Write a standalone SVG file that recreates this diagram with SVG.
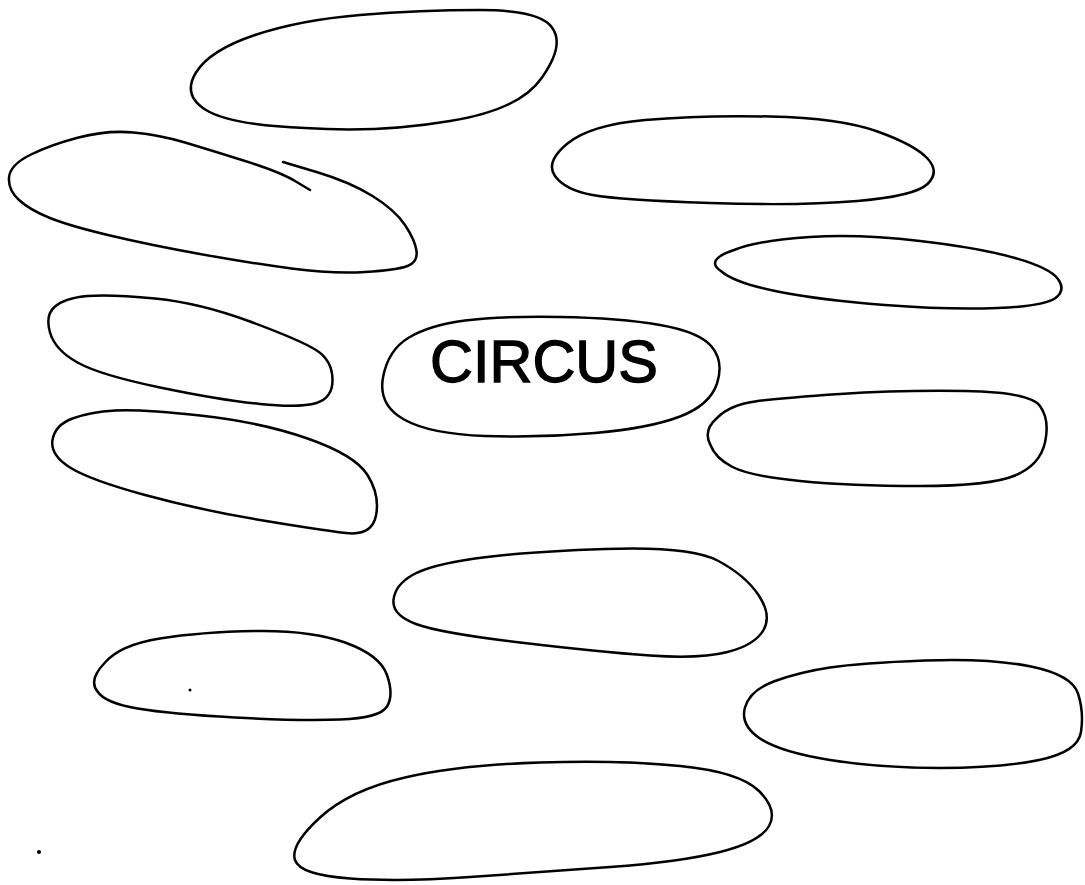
<svg xmlns="http://www.w3.org/2000/svg" width="1085" height="885" viewBox="0 0 1085 885">
<style>
.blob{fill:none;stroke:#000;stroke-width:2.5;stroke-linecap:round;stroke-linejoin:round}
.lbl{font-family:"Liberation Sans",Arial,sans-serif;font-size:60px;fill:#000;stroke:#000;stroke-width:1.3}
</style>
<rect width="1085" height="885" fill="#fff"/>
<g id="blob-top"><path class="blob" d="M360,15 Q420,10 480,10 Q540,10 552,27.5 Q565,45 542,77.5 Q520,110 450,121 Q380,133 305,128 Q230,125 206,110 Q182,95 196,72.5 Q210,50 255,35 Q300,20 360,15 Z"/></g>
<g id="blob-left1"><path class="blob" d="M283,162 L316.5,172 Q350,182 372.5,196 Q395,210 405,225 Q415,240 416.5,251 Q418,262 407.5,266 Q397,270 365,272 Q333,274 291.5,268.5 Q250,263 200,254 Q150,245 110,235.5 Q70,226 50,218 Q30,210 19,200 Q8,190 9,177.5 Q10,165 30,155 Q50,145 78.5,137.5 Q107,130 133.5,132.5 Q160,135 185,142.5 Q210,150 245,161 Q280,172 295,181 L310,190"/></g>
<g id="blob-right1"><path class="blob" d="M645,120 Q700,115 770,116.5 Q840,118 877.5,131.5 Q915,145 927.5,158.5 Q940,172 927.5,184 Q915,196 857.5,201 Q800,206 710,203 Q620,200 592.5,195 Q565,190 555,176 Q545,162 567.5,143.5 Q590,125 645,120 Z"/></g>
<g id="blob-right2"><path class="blob" d="M810,237 Q860,234 920,241 Q980,248 1015,258 Q1050,268 1058,279 Q1066,290 1055.5,298 Q1045,306 997.5,308 Q950,310 885,305 Q820,300 777.5,291.5 Q735,283 721.5,271.5 Q704,260 734,250 Q760,240 810,237 Z"/></g>
<g id="blob-left2"><path class="blob" d="M155,298.5 Q200,303 250,321.5 Q300,340 316,350 Q332,360 332.5,379 Q333,398 316.5,403 Q300,408 260,404 Q220,400 160,387.5 Q100,375 77.5,362.5 Q55,350 50,332.5 Q45,315 55,306.5 Q65,298 87.5,296 Q110,294 155,298.5 Z"/></g>
<g id="circus">
<path class="blob" d="M560,317 Q620,318 660,325 Q700,332 712,347 Q724,362 717,383.5 Q710,405 680,416.5 Q650,428 595,433 Q540,438 485,436 Q430,434 404,419.5 Q378,405 383,377.5 Q388,350 409,337.5 Q430,325 465,320.5 Q500,316 560,317 Z"/>
<text class="lbl" x="430" y="382" textLength="228" lengthAdjust="spacingAndGlyphs">CIRCUS</text>
</g>
<g id="blob-right3"><path class="blob" d="M840,394 Q900,390 965,391 Q1030,392 1040,406 Q1050,420 1045,442.5 Q1040,465 1015,475.5 Q990,486 920,486 Q850,486 800,481 Q750,476 732.5,467 Q715,458 710,444 Q703,430 717.5,417.5 Q730,405 755,401.5 Q780,398 840,394 Z"/></g>
<g id="blob-left3"><path class="blob" d="M200,415.5 Q260,422 307.5,438.5 Q355,455 367.5,475 Q380,495 376,515.5 Q372,536 346,533 Q320,530 260,520 Q200,510 145,495 Q90,480 70,467.5 Q50,455 52.5,440 Q55,425 72.5,418.5 Q90,412 115,410.5 Q140,409 200,415.5 Z"/></g>
<g id="blob-center"><path class="blob" d="M605,549 Q690,546 717.5,560.5 Q745,575 758.5,595 Q772,615 763.5,630 Q755,645 727.5,652 Q700,659 650,655.5 Q600,652 520,642.5 Q440,633 416,624 Q392,615 393.5,600 Q395,585 412.5,575 Q430,565 475,558.5 Q520,552 605,549 Z"/></g>
<g id="blob-left4"><path class="blob" d="M255,631 Q310,630 345,642.5 Q380,655 387,675 Q394,695 387,706.5 Q380,718 340,719.5 Q300,721 235,717.5 Q170,714 137.5,708.5 Q105,703 97.5,691.5 Q88,680 105,662.5 Q120,645 160,638.5 Q200,632 255,631 Z"/>
<circle cx="190" cy="690" r="1.5" fill="#000"/></g>
<g id="blob-right4"><path class="blob" d="M925,660.5 Q990,658 1031,666.5 Q1072,675 1078,693.5 Q1084,712 1081,732 Q1078,752 1039,760 Q1000,768 940,768 Q880,768 830,760 Q780,752 760,738.5 Q740,725 745,707.5 Q750,690 775,681 Q800,672 830,667.5 Q860,663 925,660.5 Z"/></g>
<g id="blob-bottom"><path class="blob" d="M540,762.5 Q620,760 680,766 Q740,772 759,791 Q778,810 769,826 Q760,842 720,852 Q680,862 610,867 Q540,872 470,877 Q400,882 350,878.5 Q300,875 295,860 Q290,845 320,817.5 Q350,790 405,777.5 Q460,765 540,762.5 Z"/></g>
<circle cx="39" cy="852" r="2" fill="#000"/>
</svg>
